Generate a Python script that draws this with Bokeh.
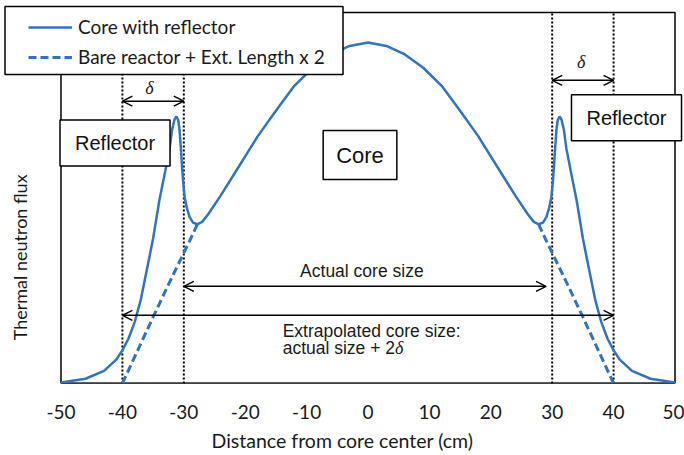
from math import pi

from bokeh.embed import file_html
from bokeh.models import (Arrow, BoxAnnotation, CustomJSTickFormatter, FixedTicker,
                          Label, Legend, LegendItem, OpenHead, Range1d)
from bokeh.plotting import figure
from bokeh.resources import INLINE

# Thermal flux across the core and reflector (distance in cm, flux normalised to the centre)
x_reflected = [-50, -46, -43, -41, -40, -39, -38, -37, -36, -35, -34, -33, -32.3, -31.9,
               -31.5, -31.2, -30.9, -30.7, -30.5, -30.3, -30.1, -29.85, -29.5, -29.05,
               -28.5, -27.8, -27, -26, -24, -21, -18, -15, -12, -9, -6, -3,
               0,
               3, 6, 9, 12, 15, 18, 21, 24, 26, 27, 27.8, 28.5, 29.05, 29.5, 29.85,
               30.1, 30.3, 30.5, 30.7, 30.9, 31.2, 31.5, 31.9, 32.3, 33, 34, 35, 36,
               37, 38, 39, 40, 41, 43, 46, 50]
flux_reflected = [0.003, 0.014, 0.037, 0.07, 0.097, 0.132, 0.18, 0.246, 0.335, 0.425,
                  0.535, 0.625, 0.69, 0.745, 0.775, 0.783, 0.772, 0.745, 0.695, 0.64,
                  0.59, 0.545, 0.515, 0.488, 0.472, 0.467, 0.474, 0.497, 0.551, 0.637,
                  0.724, 0.80, 0.873, 0.926, 0.965, 0.99,
                  1.0,
                  0.99, 0.965, 0.926, 0.873, 0.80, 0.724, 0.637, 0.551, 0.497, 0.474,
                  0.467, 0.472, 0.488, 0.515, 0.545, 0.59, 0.64, 0.695, 0.745, 0.772,
                  0.783, 0.775, 0.745, 0.69, 0.625, 0.535, 0.425, 0.335, 0.246, 0.18,
                  0.132, 0.097, 0.07, 0.037, 0.014, 0.003]

# Bare-reactor cosine tails beyond the dip, out to the extrapolated boundary (NaN splits the sides)
x_bare = [-40, -38, -36, -34, -32, -30, -29, -27.8, float("nan"),
          27.8, 29, 30, 32, 34, 36, 38, 40]
flux_bare = [0.0, 0.078, 0.156, 0.233, 0.309, 0.383, 0.42, 0.467, float("nan"),
             0.467, 0.42, 0.383, 0.309, 0.233, 0.156, 0.078, 0.0]

x_ticks = [-50, -40, -30, -20, -10, 0, 10, 20, 30, 40, 50]
boundaries = [-40, -30, 30, 40]

# Plot-area extent (the frame spans the whole canvas so boxes and titles can sit outside it)
X_MIN, X_MAX = -50, 50
Y_TOP = 1.088

BLUE = "#3273BD"
CAL = "Lato"
ARIAL = "Liberation Sans"
INK = "#1a1a1a"

p = figure(width=684, height=455, output_backend="svg", toolbar_location=None,
           x_range=Range1d(-59.853, 51.547), y_range=Range1d(0, 1.12317),
           min_border_left=0, min_border_right=0, min_border_top=0,
           min_border_bottom=72)
p.background_fill_color = "white"
p.border_fill_color = "white"
p.grid.visible = False
p.outline_line_color = None
p.yaxis.visible = False

ax = p.xaxis[0]
ax.ticker = FixedTicker(ticks=x_ticks)
ax.formatter = CustomJSTickFormatter(code="return tick.toFixed(0);")
ax.axis_line_color = None
ax.major_tick_line_color = None
ax.minor_tick_line_color = None
ax.major_label_standoff = 15
ax.major_label_text_font = CAL
ax.major_label_text_font_size = "19px"
ax.major_label_text_color = INK
ax.axis_label = "Distance from core center (cm)"
ax.axis_label_text_font = CAL
ax.axis_label_text_font_size = "19.5px"
ax.axis_label_text_font_style = "normal"
ax.axis_label_text_color = INK
ax.axis_label_standoff = 7

# Plot-area border and baseline
p.quad(left=X_MIN, right=X_MAX, bottom=0, top=Y_TOP, fill_color=None,
       line_color="black", line_width=1.5)
p.segment(x0=X_MIN, y0=0, x1=X_MAX, y1=0, line_color="black", line_width=2)

# Dotted boundary markers
for xb in boundaries:
    p.segment(x0=xb, y0=0, x1=xb, y1=Y_TOP, line_color="black", line_width=2,
              line_dash="2 2")

solid = p.line(x_reflected, flux_reflected, line_color=BLUE, line_width=2.5)
dashed = p.line(x_bare, flux_bare, line_color=BLUE, line_width=3, line_dash="8 4")

# Dimension arrows
def dim_arrow(x0, x1, y):
    p.add_layout(Arrow(x_start=x0, y_start=y, x_end=x1, y_end=y,
                       line_color="black", line_width=1.5,
                       start=OpenHead(size=10, line_width=1.5, line_color="black"),
                       end=OpenHead(size=10, line_width=1.5, line_color="black")))

dim_arrow(-40, -30, 0.828)
dim_arrow(30, 40, 0.889)
dim_arrow(-30, 29, 0.285)
dim_arrow(-40, 40, 0.2)

def text(x, y, s, size, font=ARIAL, style="normal", align="center"):
    p.add_layout(Label(x=x, y=y, text=s, text_font=font, text_font_size=size,
                       text_font_style=style, text_align=align,
                       text_baseline="middle", text_color=INK))

text(-35.6, 0.868, "δ", "18px", font="Liberation Serif", style="italic")
text(34.7, 0.942, "δ", "18px", font="Liberation Serif", style="italic")
text(-1.0, 0.329, "Actual core size", "17.5px")
text(-13.9, 0.153, "Extrapolated core size:", "17.5px", align="left")
text(-13.9, 0.105, "actual size + 2", "17.5px", align="left")
text(4.4, 0.105, "δ", "18px", font="Liberation Serif", style="italic", align="left")

def boxed(x, y, s, size, pad):
    p.add_layout(Label(x=x, y=y, text=s, text_font=ARIAL, text_font_size=size,
                       text_align="center", text_baseline="middle",
                       text_color="#111111", padding=pad,
                       background_fill_color="white",
                       border_line_color="black", border_line_width=1.5))

boxed(-41.2, 0.705, "Reflector", "20px", (15, 12))
boxed(42.1, 0.779, "Reflector", "20px", (15, 12))
boxed(-1.3, 0.67, "Core", "22px", (13, 12))

# Y-axis title
p.add_layout(Label(x=-56.6, y=0.37, text="Thermal neutron flux", angle=pi / 2,
                   text_font=CAL, text_font_size="18px", text_align="center",
                   text_baseline="middle", text_color=INK))

# Legend frame, then the legend itself
p.add_layout(BoxAnnotation(left=-59.12, right=-4.07, bottom=0.906, top=1.1056,
                           fill_color="white", fill_alpha=1.0,
                           line_color="black", line_width=1.5, line_alpha=1.0))
legend = Legend(items=[LegendItem(label="Core with reflector", renderers=[solid]),
                       LegendItem(label="Bare reactor + Ext. Length x 2", renderers=[dashed])],
                location=(28, 315), padding=6, spacing=7, glyph_width=44,
                glyph_height=22, label_height=22, label_standoff=6,
                label_text_font=CAL, label_text_font_size="19px",
                label_text_color=INK, border_line_color=None,
                background_fill_color="white", background_fill_alpha=0.0)
p.add_layout(legend, "center")

open("out.html", "w").write(file_html(p, INLINE))
